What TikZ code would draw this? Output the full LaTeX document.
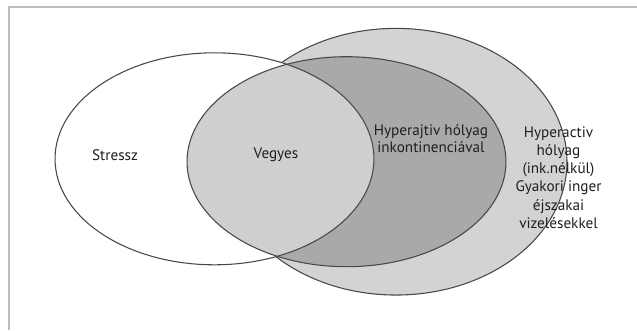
\documentclass[tikz,border=0pt]{standalone}
\usepackage{fontspec}
\setmainfont{PT Sans}
\usetikzlibrary{positioning}

\definecolor{ringgray}{HTML}{D3D3D3}
\definecolor{darkgray}{HTML}{A9A9A9}
\definecolor{lensgray}{HTML}{CFCFCF}
\definecolor{edgegray}{HTML}{484848}
\definecolor{framegray}{HTML}{BDBDBD}

\tikzset{
  venn/.style={draw=edgegray, line width=0.8pt},
  lbl/.style={text=black!88, font=\fontsize{11.4}{12.6}\selectfont, align=center, inner sep=0pt}
}

\begin{document}
\begin{tikzpicture}[x=0.75pt, y=-0.75pt]
   \useasboundingbox (0,0) rectangle (637,330);
   % frame
   \draw[framegray, line width=1.5pt] (9,330) -- (9,7) -- (637,7);
   % sets
   \def\setstressz{(214.5,158.8) ellipse [x radius=119.6pt, y radius=79.5pt]}
   \def\setinkont{(346.5,161.7) ellipse [x radius=119.6pt, y radius=78.75pt]}
   \def\setoab{(396,161.7) ellipse [x radius=128.25pt, y radius=100pt]}
   \fill[ringgray, venn] \setoab;
   \fill[darkgray] \setinkont;
   \fill[white] \setstressz;
   \begin{scope}
      \clip \setstressz;
      \fill[lensgray] \setinkont;
   \end{scope}
   \draw[venn] \setstressz;
   \draw[venn] \setinkont;
   % labels
   \node[lbl] (stressz) at (115,155)   {Stressz};
   \node[lbl] (vegyes)  at (276,155)   {Vegyes};
   \node[lbl] (inkont)  at (431,138.5) {Hyperajtiv hólyag\\inkontinenciával};
   \node[lbl, font=\fontsize{11.4}{13.7}\selectfont] (oab) at (558.5,177.5)
      {Hyperactiv\\hólyag\\(ink.nélkül)\\Gyakori inger\\éjszakai\\vizelésekkel};
\end{tikzpicture}
\end{document}
